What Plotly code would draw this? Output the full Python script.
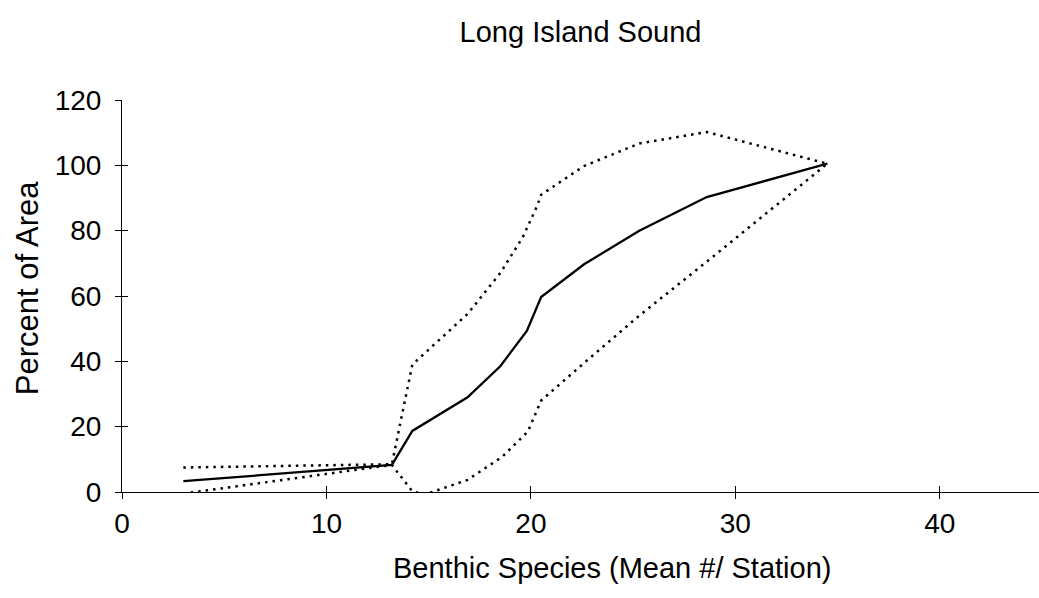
import plotly.graph_objects as go

# Mean number of benthic species per station vs. cumulative percent of area
mean_x = [3.0, 13.2, 14.2, 16.9, 18.5, 19.8, 20.5, 22.6, 25.3, 28.6, 34.5]
mean_y = [3.3, 8.3, 18.7, 29.0, 38.5, 49.3, 59.7, 69.7, 80.0, 90.3, 100.5]

upper_x = [3.0, 13.2, 14.2, 16.9, 18.5, 19.6, 20.3, 20.5, 22.6, 25.3, 28.6, 34.5]
upper_y = [7.5, 8.5, 39.0, 54.5, 67.0, 78.0, 87.5, 91.0, 99.8, 106.7, 110.2, 100.5]

lower_x = [3.0, 13.2, 14.2, 14.8, 16.9, 18.6, 19.85, 20.5, 22.6, 25.3, 28.6, 34.5]
lower_y = [-0.5, 8.3, 0.2, -0.8, 3.7, 10.8, 18.5, 28.0, 39.5, 54.0, 70.5, 100.5]

x_ticks = [0, 10, 20, 30, 40]
y_ticks = [0, 20, 40, 60, 80, 100, 120]

FONT = "Liberation Sans, Arial, Helvetica, sans-serif"
dotted = dict(color="black", width=2.5, dash="2.5px,5px")

fig = go.Figure()
fig.add_trace(go.Scatter(x=upper_x, y=upper_y, mode="lines", line=dotted,
                         showlegend=False, hoverinfo="skip"))
fig.add_trace(go.Scatter(x=lower_x, y=lower_y, mode="lines", line=dotted,
                         showlegend=False, hoverinfo="skip"))
fig.add_trace(go.Scatter(x=mean_x, y=mean_y, mode="lines",
                         line=dict(color="black", width=2.3),
                         showlegend=False))

axis_common = dict(showgrid=False, zeroline=False, showline=True,
                   linecolor="black", linewidth=1, ticks="outside",
                   ticklen=6, tickwidth=1, tickcolor="black",
                   tickfont=dict(family=FONT, size=28, color="black"))

fig.update_layout(
    width=1039, height=598,
    margin=dict(l=122, r=0, t=100, b=106),
    paper_bgcolor="white", plot_bgcolor="white",
    title=dict(text="Long Island Sound", x=0.5, xref="paper", xanchor="center",
               y=0.946, yref="container", yanchor="middle",
               font=dict(family=FONT, size=29, color="black")),
    xaxis=dict(range=[0, 44.85], tickvals=x_ticks, **axis_common),
    yaxis=dict(range=[0, 120], tickvals=y_ticks, ticklabelstandoff=8,
               **axis_common),
    # inner half of the crossing tick marks
    xaxis2=dict(overlaying="x", matches="x", anchor="y", side="bottom",
                showgrid=False, zeroline=False, showline=False,
                ticks="inside", ticklen=6, tickcolor="black",
                tickvals=x_ticks, showticklabels=False),
    yaxis2=dict(overlaying="y", matches="y", anchor="x", side="left",
                showgrid=False, zeroline=False, showline=False,
                ticks="inside", ticklen=6, tickcolor="black",
                tickvals=y_ticks, showticklabels=False),
    annotations=[
        dict(text="Benthic Species (Mean #/ Station)", xref="paper", yref="paper",
             x=0.534, y=-0.194, xanchor="center", yanchor="middle",
             showarrow=False, font=dict(family=FONT, size=29, color="black")),
        dict(text="Percent of Area", xref="paper", yref="paper",
             x=-0.1036, y=0.52, xanchor="center", yanchor="middle", textangle=-90,
             showarrow=False, font=dict(family=FONT, size=31, color="black")),
    ],
)

# invisible trace binding the secondary axes
fig.add_trace(go.Scatter(x=[0], y=[0], xaxis="x2", yaxis="y2", mode="lines",
                         line=dict(width=0), showlegend=False, hoverinfo="skip"))

fig.write_html("out.html")
